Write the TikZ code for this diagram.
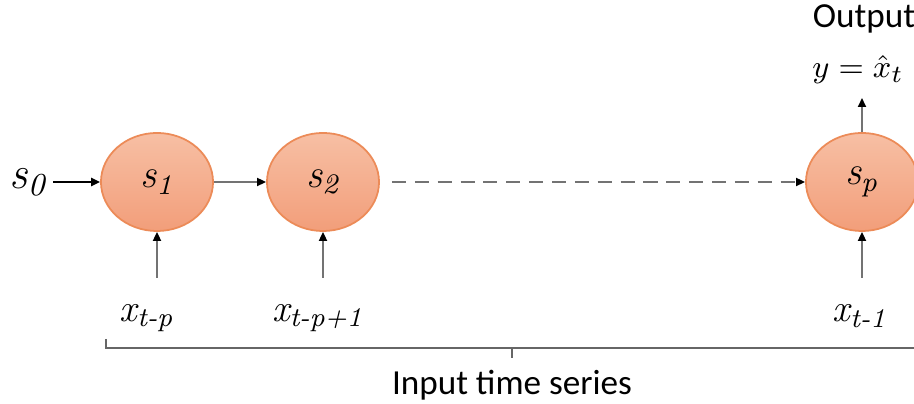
\documentclass[tikz,border=0pt]{standalone}
\usepackage{fontspec}
\newfontfamily\calib{Carlito}
\usetikzlibrary{shapes.geometric,arrows.meta}
\definecolor{circtop}{HTML}{F7BFA4}
\definecolor{circbot}{HTML}{F29E7A}
\definecolor{circedge}{HTML}{EC8B58}
\newcommand{\lsub}[2]{{\rmfamily\itshape #1\textsubscript{#2}}}
\tikzset{
  statenode/.style={ellipse, minimum width=1.12cm, minimum height=0.98cm, draw=circedge, line width=0.5pt,
    top color=circtop, bottom color=circbot, font=\rmfamily\fontsize{11.5}{13}\selectfont, inner sep=0pt},
  lbl/.style={font=\rmfamily\fontsize{11}{12}\selectfont, inner sep=0pt},
  cal/.style={font=\calib\fontsize{10}{12}\selectfont, inner sep=0pt},
  tip/.style={-{Triangle[length=0.09cm,width=0.08cm,color=black]}},
  thinarrow/.style={tip, draw=black!55, line width=0.5pt},
}
\begin{document}
\begin{tikzpicture}[x=0.01cm,y=-0.01cm]
\useasboundingbox (0,0) rectangle (914,404);
\node[statenode] (s1) at (157,182) {\lsub{s}{1}};
\node[statenode] (s2) at (323,182) {\lsub{s}{2}};
\node[statenode] (sp) at (862,182) {\lsub{s}{p}};
\node[lbl, font=\rmfamily\fontsize{13}{14}\selectfont] (s0) at (28,182) {\lsub{s}{0}};
\node[lbl] (x1) at (147,318) {\lsub{x}{t-p}};
\node[lbl] (x2) at (318,318) {\lsub{x}{t-p+1}};
\node[lbl] (xp) at (860,316) {\lsub{x}{t-1}};
\node[cal] (out) at (864,19) {Output};
\node[lbl, font=\fontsize{9.5}{11}\selectfont] (yhat) at (858,70) {$y=\hat{x}_t$};
\node[cal] (inp) at (512,385) {Input time series};
\coordinate (ptop) at (862,98);
\coordinate (a1) at (157,278);
\coordinate (a2) at (323,278);
\coordinate (a3) at (862,278);
\coordinate (dstart) at (392,182);
\draw[tip, line width=0.7pt] (s0.east) ++(6,0) -- (s1.west);
\draw[thinarrow] (s1.east) -- (s2.west);
\draw[thinarrow, dashed, dash pattern=on 4pt off 2.5pt] (dstart) -- (sp.west);
\draw[thinarrow] (a1) -- (s1.south);
\draw[thinarrow] (a2) -- (s2.south);
\draw[thinarrow] (a3) -- (sp.south);
\draw[thinarrow] (sp.north) -- (ptop);
\coordinate (bl) at (106,339);
\coordinate (br) at (920,348);
\coordinate (bm) at (512,358);
\draw[black!60, line width=0.5pt] (bl) -- (106,348) -- (br);
\draw[black!60, line width=0.5pt] (512,348) -- (bm);
\end{tikzpicture}
\end{document}
